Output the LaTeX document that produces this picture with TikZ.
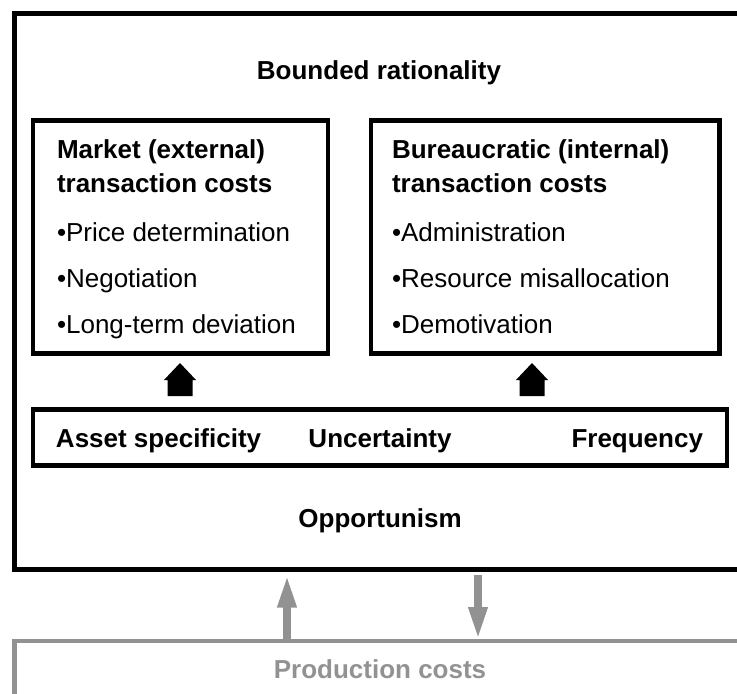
\documentclass[tikz,border=0pt]{standalone}
\usepackage{fontspec}
\setmainfont{Liberation Sans}
\usetikzlibrary{arrows.meta}
\definecolor{pgray}{HTML}{929292}
\tikzset{
  bt/.style={font=\fontsize{26}{31}\selectfont\bfseries, inner sep=0pt, outer sep=0pt},
  rt/.style={font=\fontsize{26}{31}\selectfont, inner sep=0pt, outer sep=0pt},
  frame/.style={draw=black, line width=4.6pt, rectangle, inner sep=0pt, outer sep=0pt, anchor=north west},
  house/.style={fill=black, draw=none},
  garrowup/.style={draw=pgray, line width=8.5pt, -{Triangle[length=34pt,width=17pt]}},
}
\begin{document}
\begin{tikzpicture}[x=1pt,y=-1pt]
\useasboundingbox (0,0) rectangle (737,694);
\clip (0,0) rectangle (737,694);
% outer frame
\node[frame, line width=5pt, minimum width=730.5pt, minimum height=556pt] (outer) at (14.5,13.5) {};
% production costs frame
\node[frame, draw=pgray, minimum width=730.5pt, minimum height=100pt] (prod) at (14.5,641) {};
% inner boxes
\node[frame, minimum width=295pt, minimum height=233pt] (market) at (33,120.5) {};
\node[frame, minimum width=348.5pt, minimum height=233pt] (bureau) at (371,120.5) {};
\node[frame, minimum width=694pt, minimum height=56pt] (factors) at (33,409.5) {};
% texts
\node[bt, anchor=base] (bounded) at (379,79) {Bounded rationality};
\node[bt, anchor=base west] (m1) at (57,158) {Market (external)};
\node[bt, anchor=base west] (m2) at (57,192) {transaction costs};
\node[rt, anchor=base west] (m3) at (57,241) {•Price determination};
\node[rt, anchor=base west] (m4) at (57,287) {•Negotiation};
\node[rt, anchor=base west] (m5) at (57,333) {•Long-term deviation};
\node[bt, anchor=base west] (b1) at (392,158) {Bureaucratic (internal)};
\node[bt, anchor=base west] (b2) at (392,192) {transaction costs};
\node[rt, anchor=base west] (b3) at (392,241) {•Administration};
\node[rt, anchor=base west] (b4) at (392,287) {•Resource misallocation};
\node[rt, anchor=base west] (b5) at (392,333) {•Demotivation};
\node[bt, anchor=base west] (asset) at (56,447) {Asset specificity};
\node[bt, anchor=base] (uncert) at (380,447) {Uncertainty};
\node[bt, anchor=base east] (freq) at (703,447) {Frequency};
\node[bt, anchor=base] (opp) at (380,527) {Opportunism};
\node[bt, anchor=base, text=pgray] (pc) at (380,678) {Production costs};
% house-shaped arrows
\foreach \hx/\nm in {180/hl, 532/hr}{
  \coordinate (\nm) at (\hx,363);
  \fill[house] (\nm) -- ++(16,17) -- ++(-3.5,0) -- ++(0,16) -- ++(-25,0) -- ++(0,-16) -- ++(-3.5,0) -- cycle;
}
% gray arrows
\coordinate (ux) at (287,0);
\coordinate (dx) at (478,0);
\draw[garrowup, shorten >=4pt] (prod.north -| ux) -- (outer.south -| ux);
\draw[garrowup, shorten <=5pt] (outer.south -| dx) -- (prod.north -| dx);
\end{tikzpicture}
\end{document}
